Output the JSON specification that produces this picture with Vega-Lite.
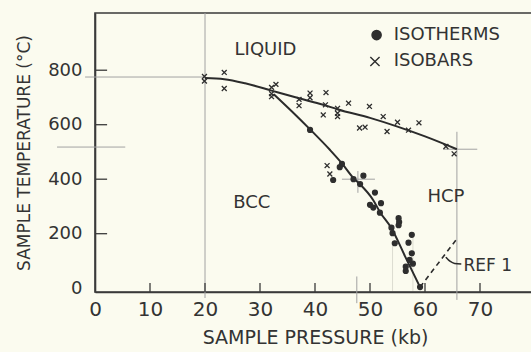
{
  "$schema": "https://vega.github.io/schema/vega-lite/v6.json",
  "width": 440,
  "height": 279,
  "autosize": {"type": "none"},
  "padding": {"left": 95, "top": 13, "right": 0, "bottom": 60},
  "background": "#fbfbef",
  "config": {
    "view": {"stroke": "#3a3a3a", "strokeWidth": 1.6},
    "font": "DejaVu Sans",
    "axis": {
      "domainColor": "#3a3a3a", "domainWidth": 1.6,
      "tickColor": "#3a3a3a", "tickWidth": 1.3, "tickOpacity": 0,
      "labelColor": "#333333", "titleColor": "#333333",
      "grid": false, "labelFont": "DejaVu Sans", "titleFont": "DejaVu Sans",
      "titleFontWeight": "normal", "labelFlush": false
    }
  },
  "datasets": {
    "guides": [
      {"p": 20, "t": -36, "p2": 20, "t2": 1010},
      {"p": -1.8, "t": 775, "p2": 20, "t2": 775},
      {"p": -6.9, "t": 518, "p2": 5.5, "t2": 518},
      {"p": 44.9, "t": 400, "p2": 50.9, "t2": 400},
      {"p": 47.8, "t": 350, "p2": 47.8, "t2": 430},
      {"p": 63.3, "t": 510, "p2": 69.5, "t2": 510},
      {"p": 65.8, "t": 574, "p2": 65.8, "t2": -43},
      {"p": 47.6, "t": 43, "p2": 47.6, "t2": -55}
    ],
    "faint": [
      {"p": 54.1, "t": 165, "p2": 54.1, "t2": -10},
      {"p": 57.8, "t": 185, "p2": 57.8, "t2": -10}
    ],
    "ticks": [
      {"p": 10, "t": -14, "p2": 10, "t2": 19},
      {"p": 20, "t": -14, "p2": 20, "t2": 19},
      {"p": 30, "t": -14, "p2": 30, "t2": 19},
      {"p": 40, "t": -14, "p2": 40, "t2": 19},
      {"p": 50, "t": -14, "p2": 50, "t2": 19},
      {"p": 60, "t": -14, "p2": 60, "t2": 19},
      {"p": 70, "t": -14, "p2": 70, "t2": 19},
      {"p": 0, "t": 200, "p2": 2.2, "t2": 200},
      {"p": 0, "t": 400, "p2": 2.2, "t2": 400},
      {"p": 0, "t": 600, "p2": 2.2, "t2": 600},
      {"p": 0, "t": 800, "p2": 2.2, "t2": 800}
    ],
    "curves": [
      {"curve": "upper", "p": 20, "t": 771},
      {"curve": "upper", "p": 23.5, "t": 767},
      {"curve": "upper", "p": 27.3, "t": 752},
      {"curve": "upper", "p": 32.1, "t": 725},
      {"curve": "upper", "p": 37.1, "t": 697},
      {"curve": "upper", "p": 41.5, "t": 673},
      {"curve": "upper", "p": 44.2, "t": 656},
      {"curve": "upper", "p": 50, "t": 625},
      {"curve": "upper", "p": 55, "t": 593},
      {"curve": "upper", "p": 60, "t": 557},
      {"curve": "upper", "p": 65.8, "t": 510},
      {"curve": "lower", "p": 32.5, "t": 712},
      {"curve": "lower", "p": 36, "t": 645},
      {"curve": "lower", "p": 39.1, "t": 583},
      {"curve": "lower", "p": 42.7, "t": 508},
      {"curve": "lower", "p": 44.9, "t": 458},
      {"curve": "lower", "p": 47, "t": 404},
      {"curve": "lower", "p": 48, "t": 385},
      {"curve": "lower", "p": 50.6, "t": 323},
      {"curve": "lower", "p": 51.8, "t": 280},
      {"curve": "lower", "p": 53.9, "t": 220},
      {"curve": "lower", "p": 56.4, "t": 116},
      {"curve": "lower", "p": 59.1, "t": 4}
    ],
    "dashed": [
      {"p": 59.1, "t": 4},
      {"p": 65.6, "t": 176}
    ],
    "leader": [
      {"p": 63.8, "t": 114},
      {"p": 64.6, "t": 98},
      {"p": 65.4, "t": 91},
      {"p": 66.6, "t": 89}
    ],
    "obs": [
      {"type": "ISOTHERMS", "p": 39.1, "t": 581},
      {"type": "ISOTHERMS", "p": 44.5, "t": 444},
      {"type": "ISOTHERMS", "p": 44.9, "t": 456},
      {"type": "ISOTHERMS", "p": 43.3, "t": 397},
      {"type": "ISOTHERMS", "p": 47.0, "t": 400},
      {"type": "ISOTHERMS", "p": 48.2, "t": 382},
      {"type": "ISOTHERMS", "p": 48.8, "t": 413},
      {"type": "ISOTHERMS", "p": 50.9, "t": 351},
      {"type": "ISOTHERMS", "p": 52.0, "t": 312},
      {"type": "ISOTHERMS", "p": 50.0, "t": 306},
      {"type": "ISOTHERMS", "p": 50.6, "t": 296},
      {"type": "ISOTHERMS", "p": 51.8, "t": 277},
      {"type": "ISOTHERMS", "p": 55.2, "t": 257},
      {"type": "ISOTHERMS", "p": 55.3, "t": 243},
      {"type": "ISOTHERMS", "p": 55.2, "t": 231},
      {"type": "ISOTHERMS", "p": 53.9, "t": 222},
      {"type": "ISOTHERMS", "p": 54.1, "t": 202},
      {"type": "ISOTHERMS", "p": 54.5, "t": 165},
      {"type": "ISOTHERMS", "p": 57.6, "t": 196},
      {"type": "ISOTHERMS", "p": 57.0, "t": 167},
      {"type": "ISOTHERMS", "p": 57.6, "t": 128},
      {"type": "ISOTHERMS", "p": 57.2, "t": 104},
      {"type": "ISOTHERMS", "p": 57.8, "t": 90},
      {"type": "ISOTHERMS", "p": 56.5, "t": 79},
      {"type": "ISOTHERMS", "p": 56.5, "t": 63},
      {"type": "ISOTHERMS", "p": 59.1, "t": 4},
      {"type": "ISOBARS", "p": 19.9, "t": 777},
      {"type": "ISOBARS", "p": 19.9, "t": 760},
      {"type": "ISOBARS", "p": 23.5, "t": 792},
      {"type": "ISOBARS", "p": 23.5, "t": 733},
      {"type": "ISOBARS", "p": 32.1, "t": 737},
      {"type": "ISOBARS", "p": 32.9, "t": 748},
      {"type": "ISOBARS", "p": 32.1, "t": 714},
      {"type": "ISOBARS", "p": 32.1, "t": 703},
      {"type": "ISOBARS", "p": 37.1, "t": 693},
      {"type": "ISOBARS", "p": 37.1, "t": 670},
      {"type": "ISOBARS", "p": 39.1, "t": 716},
      {"type": "ISOBARS", "p": 39.1, "t": 699},
      {"type": "ISOBARS", "p": 42.0, "t": 718},
      {"type": "ISOBARS", "p": 41.9, "t": 673},
      {"type": "ISOBARS", "p": 41.5, "t": 636},
      {"type": "ISOBARS", "p": 44.1, "t": 660},
      {"type": "ISOBARS", "p": 44.1, "t": 642},
      {"type": "ISOBARS", "p": 44.1, "t": 630},
      {"type": "ISOBARS", "p": 46.1, "t": 679},
      {"type": "ISOBARS", "p": 49.9, "t": 667},
      {"type": "ISOBARS", "p": 48.1, "t": 588},
      {"type": "ISOBARS", "p": 49.1, "t": 591},
      {"type": "ISOBARS", "p": 52.4, "t": 630},
      {"type": "ISOBARS", "p": 53.1, "t": 575},
      {"type": "ISOBARS", "p": 55.0, "t": 609},
      {"type": "ISOBARS", "p": 57.0, "t": 580},
      {"type": "ISOBARS", "p": 58.9, "t": 607},
      {"type": "ISOBARS", "p": 63.8, "t": 520},
      {"type": "ISOBARS", "p": 65.3, "t": 493},
      {"type": "ISOBARS", "p": 42.2, "t": 450},
      {"type": "ISOBARS", "p": 42.7, "t": 419}
    ],
    "key": [
      {"type": "ISOTHERMS", "p": 51.2, "t": 929, "tp": 54.3},
      {"type": "ISOBARS", "p": 50.9, "t": 832, "tp": 54.3}
    ],
    "labels": [
      {"label": "LIQUID", "p": 31, "t": 876},
      {"label": "BCC", "p": 28.5, "t": 311},
      {"label": "HCP", "p": 63.8, "t": 335}
    ],
    "ref": [
      {"label": "REF 1", "p": 67.0, "t": 83}
    ]
  },
  "encoding": {
    "x": {
      "field": "p", "type": "quantitative",
      "scale": {"domain": [0, 80], "nice": false, "zero": false},
      "axis": {
        "title": "SAMPLE PRESSURE (kb)",
        "values": [0, 10, 20, 30, 40, 50, 60, 70],
        "format": "d", "tickSize": -9, "labelPadding": 16,
        "labelFontSize": 20, "titleFontSize": 19, "titlePadding": 9
      }
    },
    "y": {
      "field": "t", "type": "quantitative",
      "scale": {"domain": [-14, 1010], "nice": false, "zero": false},
      "axis": {
        "title": "SAMPLE TEMPERATURE (°C)",
        "values": [0, 200, 400, 600, 800],
        "format": "d", "tickSize": -12, "labelPadding": 25,
        "labelFontSize": 18, "titleFontSize": 17, "titlePadding": 14
      }
    }
  },
  "layer": [
    {
      "data": {"name": "guides"},
      "mark": {"type": "rule", "color": "#a2a2a2", "strokeWidth": 1},
      "encoding": {"x2": {"field": "p2"}, "y2": {"field": "t2"}}
    },
    {
      "data": {"name": "faint"},
      "mark": {"type": "rule", "color": "#dcdcd0", "strokeWidth": 1},
      "encoding": {"x2": {"field": "p2"}, "y2": {"field": "t2"}}
    },
    {
      "data": {"name": "ticks"},
      "mark": {"type": "rule", "color": "#3a3a3a", "strokeWidth": 1.3},
      "encoding": {"x2": {"field": "p2"}, "y2": {"field": "t2"}}
    },
    {
      "data": {"name": "curves"},
      "mark": {"type": "line", "color": "#2b2b2b", "strokeWidth": 2, "interpolate": "monotone"},
      "encoding": {"detail": {"field": "curve"}}
    },
    {
      "data": {"name": "dashed"},
      "mark": {"type": "line", "color": "#2b2b2b", "strokeWidth": 1.6, "strokeDash": [5, 4]},
      "encoding": {}
    },
    {
      "data": {"name": "leader"},
      "mark": {"type": "line", "color": "#2b2b2b", "strokeWidth": 1.5, "interpolate": "monotone"},
      "encoding": {}
    },
    {
      "data": {"name": "obs"},
      "mark": {"type": "point", "filled": true, "fill": "#2e2e2e", "stroke": "#2e2e2e", "strokeWidth": 1.3, "opacity": 1, "size": 24},
      "encoding": {
        "shape": {
          "field": "type", "type": "nominal",
          "scale": {"domain": ["ISOTHERMS", "ISOBARS"], "range": ["circle", "M-1,-1L1,1M-1,1L1,-1"]},
          "legend": null
        }
      }
    },
    {
      "data": {"name": "key"},
      "mark": {"type": "point", "filled": true, "fill": "#2e2e2e", "stroke": "#2e2e2e", "strokeWidth": 1.4, "opacity": 1, "size": 85},
      "encoding": {
        "shape": {
          "field": "type", "type": "nominal",
          "scale": {"domain": ["ISOTHERMS", "ISOBARS"], "range": ["circle", "M-1,-1L1,1M-1,1L1,-1"]},
          "legend": null
        }
      }
    },
    {
      "data": {"name": "key"},
      "mark": {"type": "text", "color": "#333333", "fontSize": 18, "font": "DejaVu Sans", "align": "left", "baseline": "middle"},
      "encoding": {"x": {"field": "tp", "type": "quantitative"}, "text": {"field": "type"}}
    },
    {
      "data": {"name": "labels"},
      "mark": {"type": "text", "color": "#333333", "fontSize": 18, "font": "DejaVu Sans", "align": "center", "baseline": "middle"},
      "encoding": {"text": {"field": "label"}}
    },
    {
      "data": {"name": "ref"},
      "mark": {"type": "text", "color": "#333333", "fontSize": 17, "font": "DejaVu Sans", "align": "left", "baseline": "middle"},
      "encoding": {"text": {"field": "label"}}
    }
  ]
}
